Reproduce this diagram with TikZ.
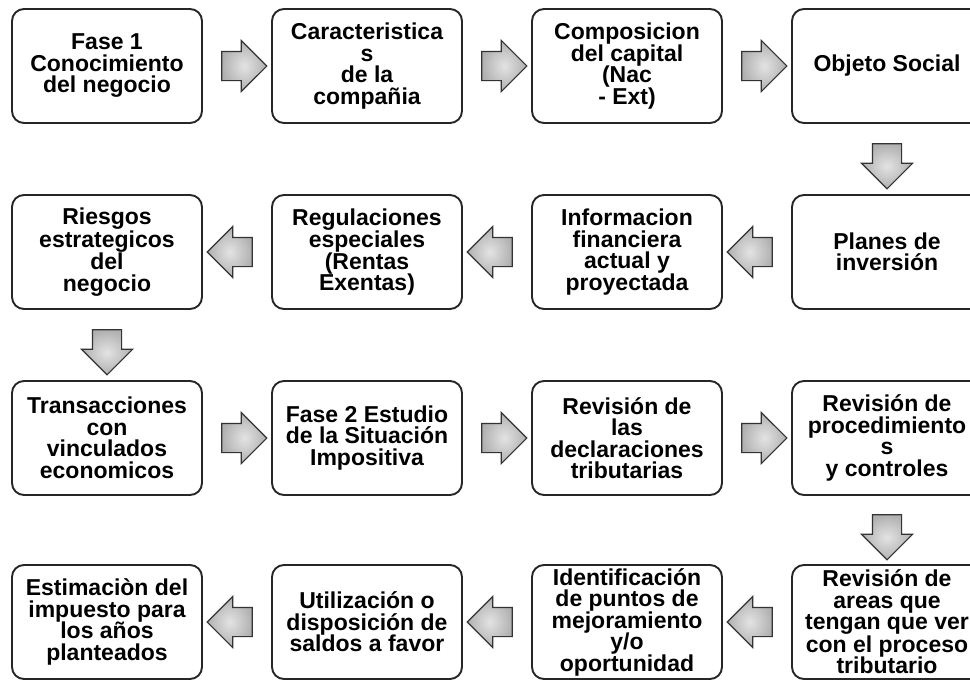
\documentclass[tikz,border=0pt]{standalone}
\usepackage{fontspec}
\setmainfont{Liberation Sans}
\usetikzlibrary{shapes.arrows,calc}
\begin{document}
\begin{tikzpicture}[x=1pt,y=-1pt,
  box/.style={draw=black!85,line width=1.9pt,rounded corners=12pt,
    minimum width=190pt,minimum height=114pt,align=center,
    font=\fontsize{23}{21.5}\selectfont\bfseries,inner sep=0pt,fill=white},
  blk/.style={single arrow,draw=black!80,line width=1.1pt,minimum height=45pt,
    single arrow head extend=11pt,
    inner color=gray!22,outer color=gray!62,shape border rotate=#1},
  blkh/.style={blk=#1,inner xsep=0pt,inner ysep=14pt},
  blkv/.style={blk=#1,inner xsep=14pt,inner ysep=0pt}]
\clip (0,0) rectangle (970,680);
\fill[white] (0,0) rectangle (970,680);
% row 1
\node[box] (b11) at (107,66) {Fase 1\\Conocimiento\\del negocio};
\node[box] (b12) at (367,66) {Caracteristica\\s\\de la\\compañia};
\node[box] (b13) at (627,66) {Composicion\\del capital\\(Nac\\- Ext)};
\node[box] (b14) at (887,66) {Objeto Social};
% row 2
\node[box] (b21) at (107,252) {Riesgos\\estrategicos\\del\\negocio};
\node[box] (b22) at (367,252) {Regulaciones\\especiales\\(Rentas\\Exentas)};
\node[box] (b23) at (627,252) {Informacion\\financiera\\actual y\\proyectada};
\node[box] (b24) at (887,252) {Planes de\\inversión};
% row 3
\node[box] (b31) at (107,438) {Transacciones\\con\\vinculados\\economicos};
\node[box] (b32) at (367,438) {Fase 2 Estudio\\de la Situación\\Impositiva};
\node[box] (b33) at (627,438) {Revisión de\\las\\declaraciones\\tributarias};
\node[box] (b34) at (887,438) {Revisión de\\procedimiento\\s\\y controles};
% row 4
\node[box] (b41) at (107,622) {Estimaciòn del\\impuesto para\\los años\\planteados};
\node[box] (b42) at (367,622) {Utilización o\\disposición de\\saldos a favor};
\node[box] (b43) at (627,622) {Identificación\\de puntos de\\mejoramiento\\y/o\\oportunidad};
\node[box] (b44) at (887,622) {Revisión de\\areas que\\tengan que ver\\con el proceso\\tributario};
% arrows
\node[blkh=0] (a1) at ($(b11.east)!0.5!(b12.west)$) {};
\node[blkh=0] (a2) at ($(b12.east)!0.5!(b13.west)$) {};
\node[blkh=0] (a3) at ($(b13.east)!0.5!(b14.west)$) {};
\node[blkv=270] (a4) at ($(b14.south)!0.5!(b24.north)$) {};
\node[blkh=180] (a5) at ($(b24.west)!0.5!(b23.east)$) {};
\node[blkh=180] (a6) at ($(b23.west)!0.5!(b22.east)$) {};
\node[blkh=180] (a7) at ($(b22.west)!0.5!(b21.east)$) {};
\node[blkv=270] (a8) at ($(b21.south)!0.5!(b31.north)$) {};
\node[blkh=0] (a9) at ($(b31.east)!0.5!(b32.west)$) {};
\node[blkh=0] (a10) at ($(b32.east)!0.5!(b33.west)$) {};
\node[blkh=0] (a11) at ($(b33.east)!0.5!(b34.west)$) {};
\node[blkv=270] (a12) at ($(b34.south)!0.5!(b44.north)$) {};
\node[blkh=180] (a13) at ($(b44.west)!0.5!(b43.east)$) {};
\node[blkh=180] (a14) at ($(b43.west)!0.5!(b42.east)$) {};
\node[blkh=180] (a15) at ($(b42.west)!0.5!(b41.east)$) {};
\end{tikzpicture}
\end{document}
